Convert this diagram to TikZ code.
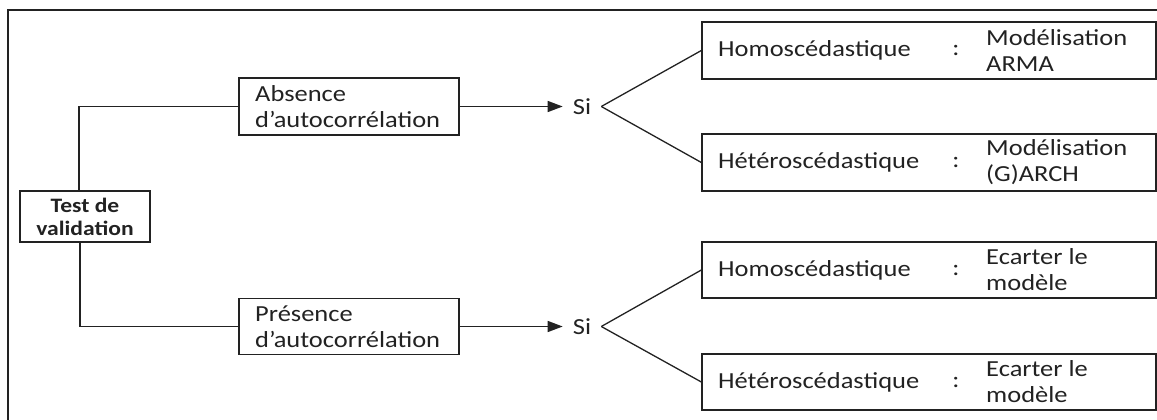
\documentclass[tikz,border=0pt]{standalone}
\usepackage{fontspec}
\setmainfont{Carlito}[FakeStretch=1.15]
\usetikzlibrary{arrows.meta}
\definecolor{ink}{HTML}{222222}
\tikzset{
  frameline/.style={draw=ink, line width=1.3pt},
  box/.style={draw=ink, line width=1.3pt, rectangle, inner sep=0pt},
  txt/.style={text=ink, font=\fontsize{23}{26}\selectfont, inner sep=0pt, align=left},
  boldtxt/.style={text=ink, font=\bfseries\fontsize{20.5}{23}\selectfont, inner sep=0pt, align=center},
  link/.style={draw=ink, line width=1.3pt},
  arr/.style={draw=ink, line width=1.4pt, -{Triangle[length=15pt,width=11pt]}},
}
\begin{document}
\begin{tikzpicture}[x=1pt,y=-1pt]
\useasboundingbox (0,0) rectangle (1157,420);
\clip (0,0) rectangle (1157,420);
\draw[frameline] (8,10) rectangle (1180,440);

% root
\node[box, minimum width=130pt, minimum height=51pt] (test) at (85,216.5) {};
\node[boldtxt] (testlbl) at (test.center) {Test de\\validation};

% first level
\node[box, minimum width=220pt, minimum height=57pt] (abs) at (349,106.5) {};
\node[txt, anchor=west] (abslbl) at (255,106.5) {Absence\\d’autocorrélation};
\node[box, minimum width=220pt, minimum height=56pt] (pres) at (349,326.5) {};
\node[txt, anchor=west] (preslbl) at (255,326.5) {Présence\\d’autocorrélation};

\draw[link] ([xshift=-6pt]test.north) |- (abs.west);
\draw[link] ([xshift=-5pt]test.south) |- (pres.west);

% "Si" branches
\node[txt, inner xsep=10pt] (si1) at (582,106.5) {Si};
\node[txt, inner xsep=10pt] (si2) at (582,326.5) {Si};
\draw[arr] (abs.east) -- (si1.west);
\draw[arr] (pres.east) -- (si2.west);

% outcome boxes
\foreach \n/\y/\h/\a/\b/\c in {
  r1/50.5/57/Homoscédastique/Modélisation/ARMA,
  r2/162.5/57/Hétéroscédastique/Modélisation/(G)ARCH,
  r3/270/56/Homoscédastique/Ecarter le/modèle,
  r4/382/56/Hétéroscédastique/Ecarter le/modèle}{
  \node[box, minimum width=454pt, minimum height=\h pt] (\n) at (929,\y) {};
  \node[txt, anchor=west] (\n a) at (718,\y) {\a};
  \node[txt] (\n c) at (956,\y) {:};
  \node[txt, anchor=west] (\n b) at (986,\y) {\b\\\c};
}

\draw[link] (si1.east) -- (r1.west);
\draw[link] (si1.east) -- (r2.west);
\draw[link] (si2.east) -- (r3.west);
\draw[link] (si2.east) -- (r4.west);
\end{tikzpicture}
\end{document}
